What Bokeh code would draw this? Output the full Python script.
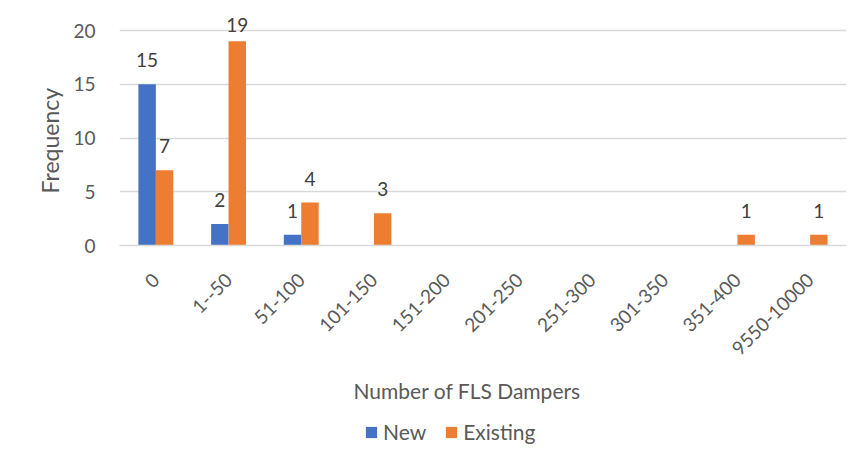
import math
from bokeh.plotting import figure
from bokeh.layouts import column
from bokeh.models import (ColumnDataSource, FactorRange, FixedTicker, Legend,
                          LegendItem, LabelSet, Title)
from bokeh.transform import dodge
from bokeh.core.properties import value
from bokeh.embed import file_html
from bokeh.resources import INLINE

categories = ["0", "1--50", "51-100", "101-150", "151-200", "201-250",
              "251-300", "301-350", "351-400", "9550-10000"]
new_counts = [15, 2, 1, 0, 0, 0, 0, 0, 0, 0]
existing_counts = [7, 19, 4, 3, 0, 0, 0, 0, 1, 1]
y_ticks = [0, 5, 10, 15, 20]
series_names = ["New", "Existing"]

FONT = "Lato"
TXT = "#595959"
LBL = "#404040"
BLUE = "#4472C4"
ORANGE = "#ED7D31"
GRID = "#D9D9D9"

Y_TOP = 21.5          # room above the 20 gridline for data labels
LABEL_GAP = 1.58      # label baseline above bar top (data units)
LABEL_CAP = 19.87     # labels may not rise above this


def lbl_text(vals):
    return [str(v) if v else "" for v in vals]


def lbl_y(vals):
    return [min(v + LABEL_GAP, LABEL_CAP) for v in vals]


src = ColumnDataSource(dict(
    cat=categories,
    new=new_counts,
    existing=existing_counts,
    new_lbl=lbl_text(new_counts),
    ex_lbl=lbl_text(existing_counts),
    new_y=lbl_y(new_counts),
    ex_y=lbl_y(existing_counts),
))

p = figure(x_range=FactorRange(*categories), y_range=(0, Y_TOP),
           width=847, height=415, output_backend="svg", toolbar_location=None,
           min_border_left=119, min_border_right=1, min_border_top=14,
           min_border_bottom=170)
p.outline_line_color = None
p.x_range.range_padding = 0
p.x_range.factor_padding = 0

OFF = 0.12
W = 0.24
r_new = p.vbar(x=dodge("cat", -OFF, range=p.x_range), top="new", width=W,
               source=src, fill_color=BLUE, line_color=None)
r_ex = p.vbar(x=dodge("cat", OFF, range=p.x_range), top="existing", width=W,
              source=src, fill_color=ORANGE, line_color=None)

for xo, yf, tf in [(-OFF, "new_y", "new_lbl"), (OFF, "ex_y", "ex_lbl")]:
    ls = LabelSet(x=dodge("cat", xo, range=p.x_range), y=yf, text=tf,
                  source=src, text_align="center", text_baseline="alphabetic",
                  text_font=value(FONT), text_font_size="19px",
                  text_color=LBL)
    p.add_layout(ls)

# grid
p.xgrid.grid_line_color = None
p.ygrid.grid_line_color = GRID
p.ygrid.grid_line_width = 1.3
p.yaxis.ticker = FixedTicker(ticks=y_ticks)

# y axis
p.yaxis.axis_line_color = None
p.yaxis.major_tick_line_color = None
p.yaxis.minor_tick_line_color = None
p.yaxis.major_label_text_font = FONT
p.yaxis.major_label_text_font_size = "19px"
p.yaxis.major_label_text_color = TXT
p.yaxis.major_label_standoff = 18

yt = Title(text="Frequency", align="left", offset=52,
           text_font=FONT, text_font_size="23px", text_font_style="normal",
           text_color=TXT, standoff=14)
p.add_layout(yt, "left")

# x axis
p.xaxis.axis_line_color = GRID
p.xaxis.axis_line_width = 1.3
p.xaxis.major_tick_line_color = None
p.xaxis.minor_tick_line_color = None
p.xaxis.major_label_orientation = math.pi / 4
p.xaxis.major_label_text_font = FONT
p.xaxis.major_label_text_font_size = "19px"
p.xaxis.major_label_text_color = TXT
p.xaxis.major_label_standoff = 25

xt = Title(text="Number of FLS Dampers", align="left", offset=234,
           text_font=FONT, text_font_size="21px", text_font_style="normal",
           text_color=TXT, standoff=22)
p.add_layout(xt, "below")

# legend strip below the chart
lf = figure(width=847, height=32, x_range=(0, 847), y_range=(0, 32),
            x_axis_location=None, y_axis_location=None,
            output_backend="svg", toolbar_location=None,
            min_border=0, outline_line_color=None)
lf.grid.visible = False
hidden = dict(x=[-1000], top=[0])
d_new = lf.vbar(x="x", top="top", width=1, source=ColumnDataSource(hidden),
                fill_color=BLUE, line_color=None)
d_ex = lf.vbar(x="x", top="top", width=1, source=ColumnDataSource(hidden),
               fill_color=ORANGE, line_color=None)
legend = Legend(items=[LegendItem(label=series_names[0], renderers=[d_new]),
                       LegendItem(label=series_names[1], renderers=[d_ex])],
                orientation="horizontal", location=(245, 3),
                label_text_font=FONT, label_text_font_size="21px",
                label_text_color=TXT, glyph_width=14, glyph_height=14,
                label_standoff=5, spacing=18, padding=0, margin=0,
                border_line_color=None, background_fill_alpha=0)
lf.add_layout(legend)

layout = column(p, lf, spacing=0)
open("out.html", "w").write(file_html(layout, INLINE))
